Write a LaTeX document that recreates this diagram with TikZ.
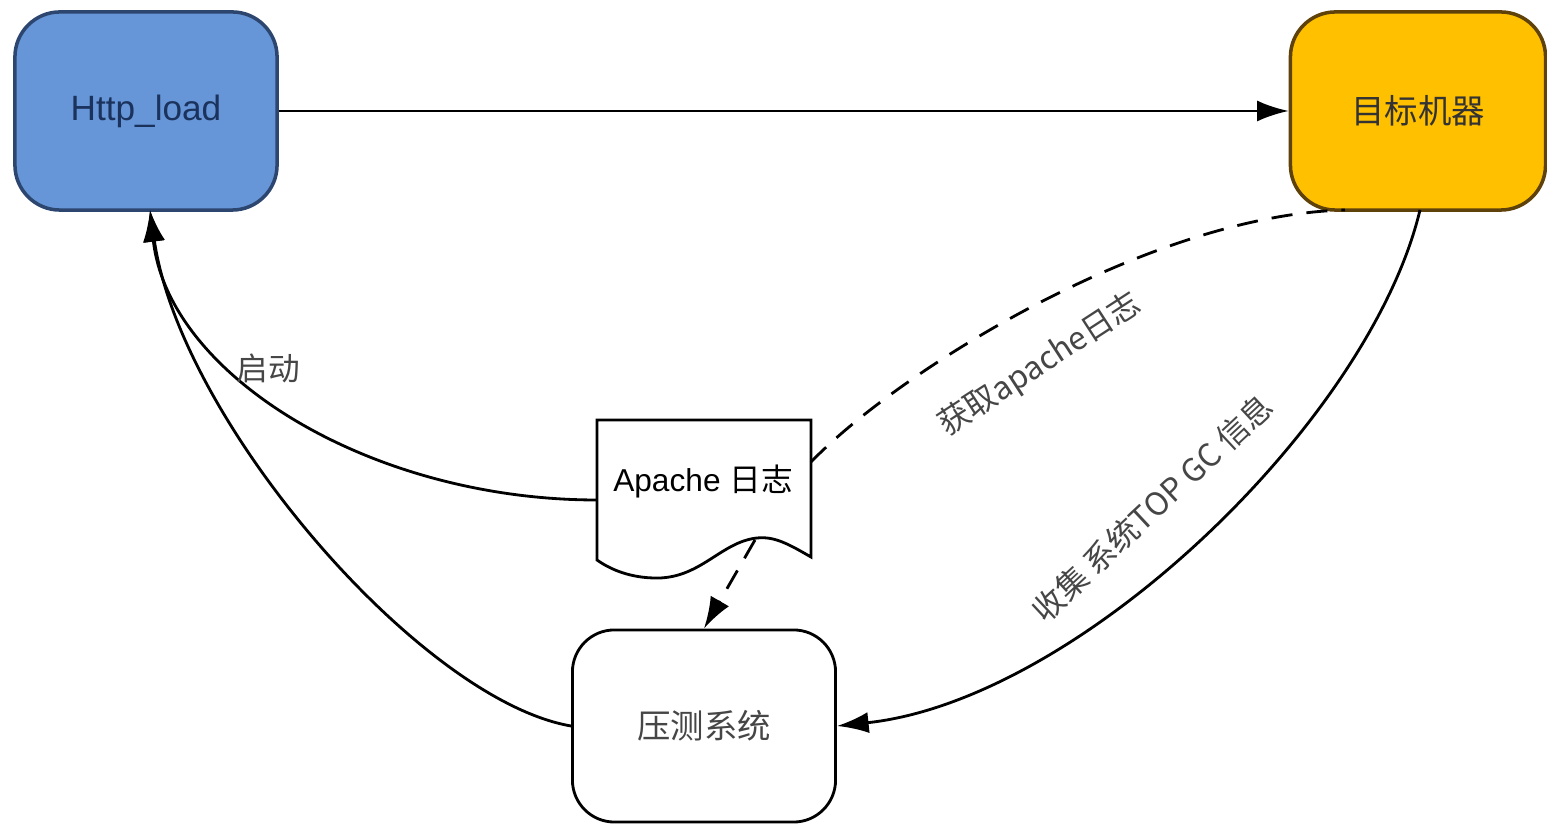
\documentclass[tikz,border=0pt]{standalone}
\usepackage{fontspec}
\setmainfont{Liberation Sans}
\newfontfamily\cjk{Noto Sans CJK SC}
\usetikzlibrary{arrows.meta}
\definecolor{bluefill}{RGB}{102,150,216}
\definecolor{blueline}{RGB}{44,70,112}
\definecolor{bluetext}{RGB}{26,50,92}
\definecolor{goldfill}{RGB}{255,192,0}
\definecolor{goldline}{RGB}{95,65,10}
\definecolor{labelgray}{RGB}{70,70,70}
\tikzset{
  topbox/.style={draw, line width=1pt, rounded corners=0.45cm, minimum width=2.62cm, minimum height=1.98cm, inner sep=0pt},
  sysbox/.style={draw=black, line width=0.8pt, rounded corners=0.42cm, minimum width=2.63cm, minimum height=1.92cm, fill=white, inner sep=0pt},
  conn/.style={line width=0.8pt, black},
  tip/.style={-{Latex[length=9pt,width=6pt]}},
  dashconn/.style={conn, dash pattern=on 6pt off 4pt},
  lbl/.style={text=labelgray, font=\cjk\fontsize{9}{11}\selectfont, inner sep=1pt},
}
\begin{document}
\begin{tikzpicture}[x=0.01cm,y=-0.01cm]
\useasboundingbox (0,0) rectangle (1547,825);
% nodes
\node[topbox, draw=blueline, fill=bluefill, text=bluetext, font=\fontsize{10}{12}\selectfont] (http) at (146,111) {Http\_load};
\node[topbox, draw=goldline, fill=goldfill, minimum width=2.55cm, text=black!80, font=\cjk\fontsize{9.5}{11}\selectfont] (target) at (1418,111) {目标机器};
\node[sysbox, text=labelgray, font=\cjk\fontsize{9.5}{11}\selectfont] (sys) at (704,726) {压测系统};
% document shape
\draw[line width=0.8pt, fill=white] (597,420) -- (811,420) -- (811,557)
  .. controls (790,545) and (775,536) .. (757,538)
  .. controls (720,542) and (700,580) .. (653,578)
  .. controls (625,577) and (607,567) .. (597,560) -- cycle;
\node[inner sep=0pt, font=\fontsize{9}{11}\selectfont] (doc) at (703,482) {Apache {\cjk 日志}};
\coordinate (docR) at (811,462);
\coordinate (docL) at (597,500);
\coordinate (docW) at (755,540);
% connectors
\draw[conn, tip] (http.east) -- (target.west);
\coordinate (httpB) at (150,210);
\draw[conn, tip] (docL) .. controls (370,500) and (168,375) .. (httpB);
\draw[conn, tip] (sys.west) .. controls (420,700) and (180,420) .. (httpB);
\coordinate (tgtBL) at (1345,210);
\coordinate (tgtB) at (1420,210);
\draw[dashconn] (docR) .. controls (900,370) and (1150,215) .. (tgtBL);
\draw[conn, tip] (tgtB) .. controls (1370,420) and (1080,700) .. (sys.east);
\draw[dashconn, tip] (docW) -- (sys.north);
% labels
\node[lbl] (l1) at (268,368) {启动};
\node[lbl, rotate=33] (l2) at (1040,365) {获取apache日志};
\node[lbl, rotate=43] (l3) at (1152,508) {收集 系统TOP GC 信息};
\end{tikzpicture}
\end{document}
